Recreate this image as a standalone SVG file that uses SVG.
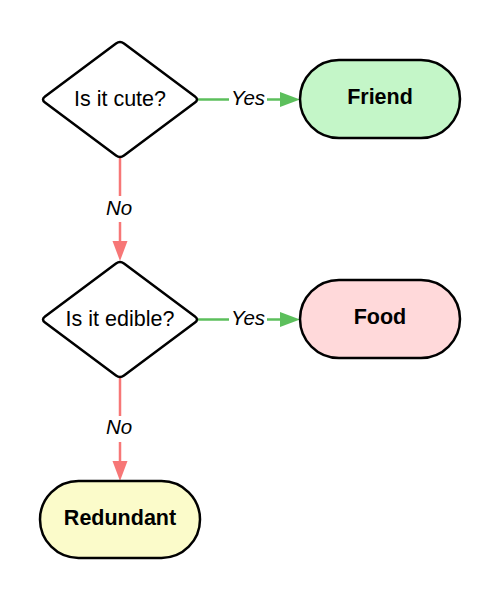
<svg xmlns="http://www.w3.org/2000/svg" width="500" height="601" viewBox="0 0 500 601">
<defs>
<style>
.shape{stroke:#000;stroke-width:2.5;stroke-linejoin:round}
.t{font-family:"Liberation Sans",Arial,sans-serif;font-size:21.5px;text-anchor:middle;dominant-baseline:central;fill:#000}
.b{font-weight:bold;font-size:21.5px}
.lbl{font-family:"Liberation Sans",Arial,sans-serif;font-size:20.5px;font-style:italic;text-anchor:middle;dominant-baseline:central;fill:#000}
.yes{stroke:#5cbf5c;stroke-width:2.5;fill:none}
.no{stroke:#f77777;stroke-width:2.5;fill:none}
</style>
</defs>
<rect width="500" height="601" fill="#fff"/>
<g id="connectors">
<g id="e1"><path class="yes" d="M198,99.5 H229"/><path class="yes" d="M267,99.5 H282"/><path d="M280,92 L300,99.5 L280,107 z" fill="#5cbf5c"/><text class="lbl" x="248" y="97.5">Yes</text></g>
<g id="e2"><path class="no" d="M120,158 V196"/><path class="no" d="M120,222 V243"/><path d="M112.5,241 L120,261 L127.5,241 z" fill="#f77777"/><text class="lbl" x="119" y="207.5">No</text></g>
<g id="e3"><path class="yes" d="M198,319.5 H229"/><path class="yes" d="M267,319.5 H282"/><path d="M280,312 L300,319.5 L280,327 z" fill="#5cbf5c"/><text class="lbl" x="248" y="317.5">Yes</text></g>
<g id="e4"><path class="no" d="M120,378 V416"/><path class="no" d="M120,442 V463"/><path d="M112.5,461 L120,481 L127.5,461 z" fill="#f77777"/><text class="lbl" x="119" y="426.5">No</text></g>
</g>
<g id="q1"><path class="shape" fill="#fff" d="M116,43.5 Q120,40.5 124,43.5 L195,96.5 Q199,99.5 195,102.5 L124,155.5 Q120,158.5 116,155.5 L45,102.5 Q41,99.5 45,96.5 Z"/><text class="t" x="120" y="98.5">Is it cute?</text></g>
<g id="friend"><rect class="shape" x="300" y="60" width="160" height="78" rx="39" fill="#c4f6c8"/><text class="t b" x="380" y="96.5">Friend</text></g>
<g id="q2"><path class="shape" fill="#fff" d="M116,263.5 Q120,260.5 124,263.5 L195,316.5 Q199,319.5 195,322.5 L124,375.5 Q120,378.5 116,375.5 L45,322.5 Q41,319.5 45,316.5 Z"/><text class="t" x="120" y="318.5">Is it edible?</text></g>
<g id="food"><rect class="shape" x="300" y="280" width="160" height="78" rx="39" fill="#ffd9da"/><text class="t b" x="380" y="316.5">Food</text></g>
<g id="redundant"><rect class="shape" x="40" y="481" width="160" height="77" rx="38.5" fill="#fbfbca"/><text class="t b" x="120" y="517.5">Redundant</text></g>
</svg>
